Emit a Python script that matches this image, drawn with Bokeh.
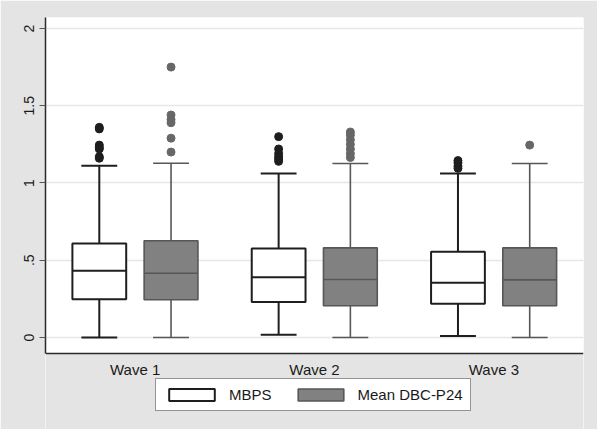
from bokeh.plotting import figure
from bokeh.models import (Legend, LegendItem, FixedTicker, Range1d, ColumnDataSource,
                          BoxAnnotation, Span)
from bokeh.core.properties import value
from bokeh.embed import file_html
from bokeh.resources import INLINE

# ---- data ----
waves = ["Wave 1", "Wave 2", "Wave 3"]
series = ["MBPS", "Mean DBC-P24"]

mbps_low = [0.0, 0.017, 0.009]
mbps_q1 = [0.248, 0.229, 0.218]
mbps_med = [0.432, 0.390, 0.354]
mbps_q3 = [0.608, 0.576, 0.555]
mbps_high = [1.111, 1.061, 1.061]
mbps_outliers = [
    [1.36, 1.35, 1.245, 1.23, 1.22, 1.17, 1.16],
    [1.30, 1.22, 1.19, 1.17, 1.155, 1.14],
    [1.145, 1.13, 1.11, 1.095],
]

dbc_low = [0.0, 0.0, 0.0]
dbc_q1 = [0.244, 0.205, 0.205]
dbc_med = [0.416, 0.375, 0.373]
dbc_q3 = [0.626, 0.580, 0.580]
dbc_high = [1.128, 1.126, 1.126]
dbc_outliers = [
    [1.75, 1.44, 1.41, 1.39, 1.29, 1.20],
    [1.33, 1.31, 1.28, 1.25, 1.22, 1.19, 1.165],
    [1.245],
]

y_ticks = [0, 0.5, 1, 1.5, 2]
y_tick_labels = ["0", ".5", "1", "1.5", "2"]

# ---- styling / layout constants ----
FONT = "Liberation Sans"
BG = "#e4e4e4"
M_LINE, M_FILL, M_PT = "#1e1e1e", "white", "#1e1e1e"
D_LINE, D_FILL, D_PT = "#575757", "#818181", "#676767"
Y_AXIS_BOTTOM = -0.104   # where the x axis line sits (bottom of the white plot region)
Y_TOP = 2.071
Y_FRAME_BOTTOM = -0.5955  # frame extends below the plot region to hold labels + legend

p = figure(
    width=597, height=429,
    output_backend="svg", toolbar_location=None,
    x_range=Range1d(0.5, 3.5), y_range=Range1d(Y_FRAME_BOTTOM, Y_TOP),
    x_axis_location=None,
    min_border_left=45, min_border_right=14, min_border_top=17, min_border_bottom=0,
    border_fill_color=BG, background_fill_color="white",
    outline_line_color=None,
)

# grey band below the plotting region (same as the page border colour)
p.add_layout(BoxAnnotation(top=Y_AXIS_BOTTOM, fill_color=BG, fill_alpha=1,
                           line_color=None, level="underlay"))

offset = 0.2
box_w = 0.30
cap_w = 0.20


def draw_series(xs, low, q1, med, q3, high, outliers, fill, line, pt_color, lw):
    src = ColumnDataSource(dict(x=xs, low=low, q1=q1, med=med, q3=q3, high=high))
    p.segment(x0="x", y0="q3", x1="x", y1="high", source=src, line_color=line, line_width=lw)
    p.segment(x0="x", y0="low", x1="x", y1="q1", source=src, line_color=line, line_width=lw)
    cx0 = [x - cap_w / 2 for x in xs]
    cx1 = [x + cap_w / 2 for x in xs]
    p.segment(x0=cx0, y0=high, x1=cx1, y1=high, line_color=line, line_width=lw)
    p.segment(x0=cx0, y0=low, x1=cx1, y1=low, line_color=line, line_width=lw)
    r = p.vbar(x="x", width=box_w, bottom="q1", top="q3", source=src,
               fill_color=fill, line_color=line, line_width=lw)
    bx0 = [x - box_w / 2 for x in xs]
    bx1 = [x + box_w / 2 for x in xs]
    p.segment(x0=bx0, y0=med, x1=bx1, y1=med, line_color=line, line_width=lw)
    ox, oy = [], []
    for x, outs in zip(xs, outliers):
        for v in outs:
            ox.append(x)
            oy.append(v)
    p.scatter(ox, oy, size=8, fill_color=pt_color, line_color=pt_color)
    return r


xs_m = [i + 1 - offset for i in range(len(waves))]
xs_d = [i + 1 + offset for i in range(len(waves))]

r_m = draw_series(xs_m, mbps_low, mbps_q1, mbps_med, mbps_q3, mbps_high, mbps_outliers,
                  M_FILL, M_LINE, M_PT, 2)
r_d = draw_series(xs_d, dbc_low, dbc_q1, dbc_med, dbc_q3, dbc_high, dbc_outliers,
                  D_FILL, D_LINE, D_PT, 1.6)

# ---- x axis: line + category labels at the bottom of the plotting region ----
p.add_layout(Span(location=Y_AXIS_BOTTOM, dimension="width",
                  line_color="#2a2a2a", line_width=1.5))
p.text(x=[i + 1 for i in range(len(waves))], y=[Y_AXIS_BOTTOM] * len(waves), text=waves,
       text_align="center", text_baseline="top", y_offset=7,
       text_font=value(FONT), text_font_size="15px", text_color="#1a1a1a")

# ---- y axis (line limited to the white plotting region) ----
p.yaxis.bounds = (Y_AXIS_BOTTOM, Y_TOP)
p.yaxis.ticker = FixedTicker(ticks=y_ticks)
p.yaxis.major_label_overrides = {t: l for t, l in zip(y_ticks, y_tick_labels)}
p.yaxis.major_label_orientation = "vertical"
p.yaxis.major_tick_out = 6
p.yaxis.major_tick_in = 0
p.yaxis.major_tick_line_color = "#555555"
p.yaxis.minor_tick_line_color = None
p.yaxis.axis_line_color = "#2a2a2a"
p.yaxis.axis_line_width = 1.5
p.yaxis.major_label_text_font = FONT
p.yaxis.major_label_text_font_size = "14px"
p.yaxis.major_label_text_color = "#1a1a1a"
p.yaxis.major_label_standoff = 5

p.xgrid.grid_line_color = None
p.ygrid.grid_line_color = "#e6e6e6"
p.ygrid.grid_line_width = 1.5

# ---- legend (inside the frame, in the grey band under the plot) ----
legend = Legend(
    items=[LegendItem(label=series[0], renderers=[r_m]),
           LegendItem(label=series[1], renderers=[r_d])],
    orientation="horizontal", location=(110, 18),
    glyph_width=57, glyph_height=15, label_height=15,
    label_standoff=9, spacing=20, padding=7, margin=0,
    label_text_font=FONT, label_text_font_size="15px", label_text_color="#1a1a1a",
    border_line_color="#2a2a2a", border_line_width=1.3,
    background_fill_color="white", background_fill_alpha=1,
)
p.add_layout(legend, "center")

open("out.html", "w").write(file_html(p, INLINE))
